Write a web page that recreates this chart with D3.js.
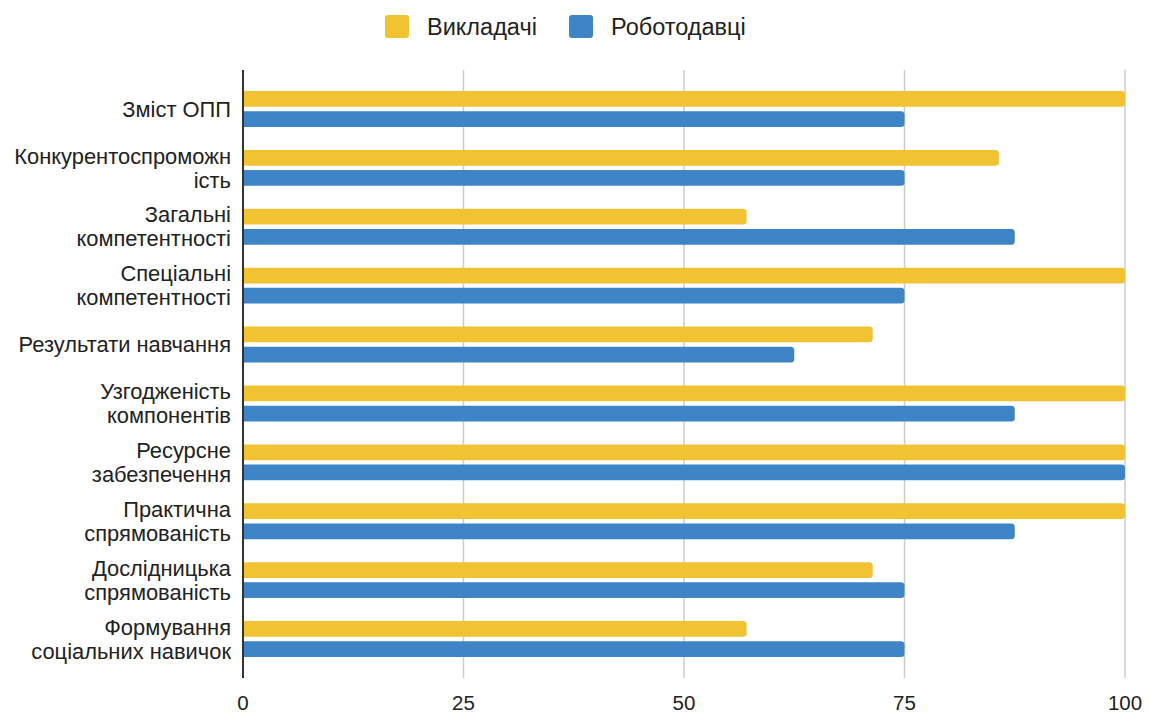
<!DOCTYPE html>
<html>
<head>
<meta charset="utf-8">
<script src="https://cdn.jsdelivr.net/npm/d3@7"></script>
<style>
  html, body { margin: 0; padding: 0; background: #fff; }
  svg { display: block; font-family: "Liberation Sans", Arial, sans-serif; }
</style>
</head>
<body>
<div id="chart"></div>
<script>
// categories (each label is split into its display lines)
const categories = [
    ['Зміст ОПП'],
    ['Конкурентоспроможн', 'ість'],
    ['Загальні', 'компетентності'],
    ['Спеціальні', 'компетентності'],
    ['Результати навчання'],
    ['Узгодженість', 'компонентів'],
    ['Ресурсне', 'забезпечення'],
    ['Практична', 'спрямованість'],
    ['Дослідницька', 'спрямованість'],
    ['Формування', 'соціальних навичок']
];
const seriesNames = ['Викладачі', 'Роботодавці'];
const teachers = [100, 85.7, 57.1, 100, 71.4, 100, 100, 100, 71.4, 57.1];
const employers = [75, 75, 87.5, 75, 62.5, 87.5, 100, 87.5, 75, 75];
const xTicks = [0, 25, 50, 75, 100];
const colors = ['#F1C232', '#3D85C6'];

const width = 1149, height = 713;
const svg = d3.select('#chart').append('svg')
    .attr('width', width)
    .attr('height', height);

const x = d3.scaleLinear().domain([0, 100]).range([243, 1125]);
const y = d3.scaleBand().domain(d3.range(categories.length)).range([79.5, 668.5]).paddingInner(0.39).paddingOuter(0.195);
const sub = d3.scaleBand().domain([0, 1]).range([0, y.bandwidth()]).paddingInner(0.22);

// gridlines
svg.append('g').selectAll('line').data(xTicks.slice(1)).join('line')
    .attr('x1', d => x(d)).attr('x2', d => x(d))
    .attr('y1', 70).attr('y2', 678)
    .attr('stroke', '#cccccc').attr('stroke-width', 1.5);

// bars with rounded right end
function barPath(x0, x1, y0, h, r) {
    r = Math.min(r, (x1 - x0));
    return `M${x0},${y0}H${x1 - r}Q${x1},${y0} ${x1},${y0 + r}V${y0 + h - r}Q${x1},${y0 + h} ${x1 - r},${y0 + h}H${x0}Z`;
}

const rows = categories.map((c, i) => ({ i, vals: [teachers[i], employers[i]] }));
const groups = svg.append('g').selectAll('g').data(rows).join('g')
    .attr('transform', d => `translate(0,${y(d.i)})`);

groups.selectAll('path').data(d => d.vals.map((v, s) => ({ v, s }))).join('path')
    .attr('d', d => barPath(x(0), x(d.v), sub(d.s), sub.bandwidth(), 3.5))
    .attr('fill', d => colors[d.s]);

// axis line
svg.append('line')
    .attr('x1', x(0)).attr('x2', x(0))
    .attr('y1', 70).attr('y2', 678)
    .attr('stroke', '#333').attr('stroke-width', 2);

// category labels
const lineH = 24;
const labels = svg.append('g').selectAll('text').data(rows).join('text')
    .attr('x', 231)
    .attr('text-anchor', 'end')
    .attr('font-size', 21.9)
    .attr('fill', '#222');
labels.each(function(d) {
    const lines = categories[d.i];
    const cy = y(d.i) + y.bandwidth() / 2;
    const t = d3.select(this);
    lines.forEach((ln, k) => {
        t.append('tspan')
            .attr('x', 231)
            .attr('y', cy + (k - (lines.length - 1) / 2) * lineH)
            .attr('dy', '0.35em')
            .text(ln);
    });
});

// x tick labels
svg.append('g').selectAll('text').data(xTicks).join('text')
    .attr('x', d => x(d))
    .attr('y', 710)
    .attr('text-anchor', 'middle')
    .attr('font-size', 20.5)
    .attr('fill', '#222')
    .text(d => d);

// legend
const legendPos = [385, 569];
const legend = svg.append('g').selectAll('g').data(seriesNames).join('g')
    .attr('transform', (d, i) => `translate(${legendPos[i]},15)`);
legend.append('rect')
    .attr('width', 24).attr('height', 23).attr('rx', 3)
    .attr('fill', (d, i) => colors[i]);
legend.append('text')
    .attr('x', 42).attr('y', 12).attr('dy', '0.35em')
    .attr('font-size', 23.5)
    .attr('fill', '#222')
    .text(d => d);
</script>
</body>
</html>
